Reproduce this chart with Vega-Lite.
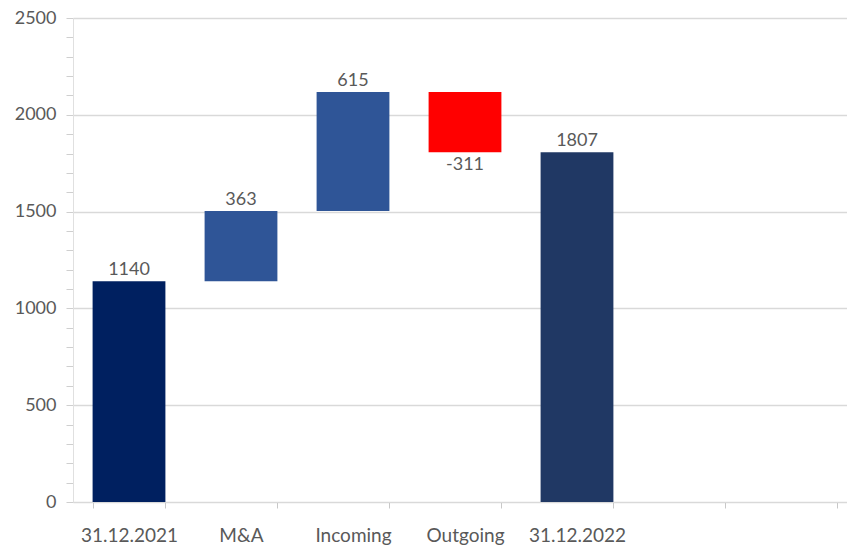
{
  "$schema": "https://vega.github.io/schema/vega-lite/v6.json",
  "width": 774,
  "height": 484,
  "autosize": {"type": "none"},
  "padding": {"left": 73, "top": 18, "right": 0, "bottom": 44},
  "background": "white",
  "config": {
    "view": {"stroke": null},
    "font": "Lato"
  },
  "data": {
    "values": [
      {"cat": "31.12.2021", "start": 0, "end": 1140, "label": "1140", "kind": "open", "dir": "up"},
      {"cat": "M&A", "start": 1140, "end": 1503, "label": "363", "kind": "inc", "dir": "up"},
      {"cat": "Incoming", "start": 1503, "end": 2118, "label": "615", "kind": "inc", "dir": "up"},
      {"cat": "Outgoing", "start": 2118, "end": 1807, "label": "-311", "kind": "dec", "dir": "down"},
      {"cat": "31.12.2022", "start": 0, "end": 1807, "label": "1807", "kind": "close", "dir": "up"}
    ]
  },
  "encoding": {
    "x": {
      "field": "cat",
      "type": "nominal",
      "sort": null,
      "scale": {
        "domain": ["31.12.2021", "M&A", "Incoming", "Outgoing", "31.12.2022", "e1", "e2"],
        "range": [0, 784],
        "paddingInner": 0.35,
        "paddingOuter": 0.175
      },
      "axis": {
        "title": null,
        "labelAngle": 0,
        "labelExpr": "(datum.value == 'e1' || datum.value == 'e2') ? '' : datum.value",
        "labelFontSize": 19,
        "labelColor": "#595959",
        "labelPadding": 18,
        "tickBand": "extent",
        "tickColor": "#c8c8c8",
        "tickSize": 6,
        "domainColor": "#d9d9d9",
        "grid": false
      }
    },
    "y": {
      "field": "start",
      "type": "quantitative",
      "scale": {"domain": [0, 2500], "nice": false},
      "axis": {
        "title": null,
        "values": [0,100,200,300,400,500,600,700,800,900,1000,1100,1200,1300,1400,1500,1600,1700,1800,1900,2000,2100,2200,2300,2400,2500],
        "labelExpr": "datum.value % 500 == 0 ? datum.value : ''",
        "labelFontSize": 18,
        "labelColor": "#595959",
        "labelPadding": 10,
        "tickColor": "#cfcfcf",
        "tickSize": 7,
        "domainColor": "#e0e0e0",
        "grid": true,
        "gridColor": "#d9d9d9",
        "gridWidth": 1.5,
        "gridOpacity": {"condition": {"test": "datum.value % 500 == 0", "value": 1}, "value": 0}
      }
    }
  },
  "layer": [
    {
      "mark": {"type": "bar"},
      "encoding": {
        "y2": {"field": "end"},
        "color": {
          "field": "kind",
          "type": "nominal",
          "scale": {"domain": ["open", "inc", "dec", "close"], "range": ["#002060", "#2F5597", "#FF0000", "#203864"]},
          "legend": null
        }
      }
    },
    {
      "transform": [{"filter": "datum.dir == 'up'"}],
      "mark": {"type": "text", "baseline": "bottom", "dy": -2, "fontSize": 18, "color": "#595959"},
      "encoding": {
        "y": {"field": "end", "type": "quantitative"},
        "text": {"field": "label"}
      }
    },
    {
      "transform": [{"filter": "datum.dir == 'down'"}],
      "mark": {"type": "text", "baseline": "top", "dy": 4, "fontSize": 18, "color": "#595959"},
      "encoding": {
        "y": {"field": "end", "type": "quantitative"},
        "text": {"field": "label"}
      }
    }
  ]
}
